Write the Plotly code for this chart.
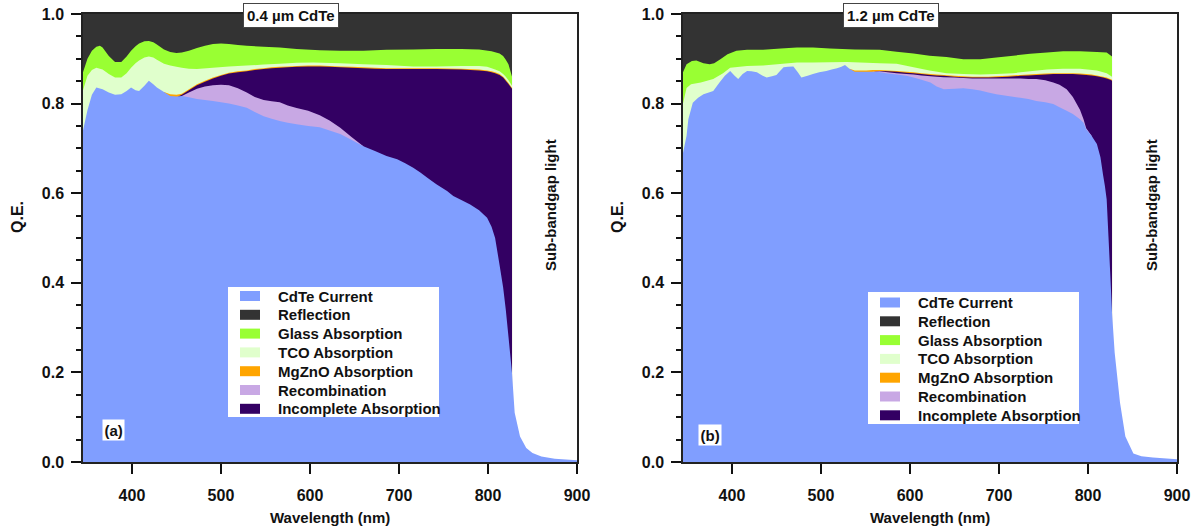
import plotly.graph_objects as go

W, H = 1200, 531
PLOT_TOP, PLOT_BOTTOM = 14, 462

COLORS = {
    "CdTe Current": "#809EFF",
    "Reflection": "#333333",
    "Glass Absorption": "#99FF33",
    "TCO Absorption": "#E0FFCC",
    "MgZnO Absorption": "#FFA500",
    "Recombination": "#C8A8E4",
    "Incomplete Absorption": "#330063",
}
LEGEND_ORDER = ["CdTe Current", "Reflection", "Glass Absorption", "TCO Absorption",
                "MgZnO Absorption", "Recombination", "Incomplete Absorption"]
# bands are painted back to front; each series is the upper edge of its band
PAINT_ORDER = ["Reflection", "Glass Absorption", "TCO Absorption", "MgZnO Absorption",
               "Incomplete Absorption", "Recombination", "CdTe Current"]

# ---------------- (a) 0.4 um CdTe ----------------
wl_reflection_a = [345, 827]
reflection_top_a = [1.0, 1.0]

wl_glass_a = [345, 350, 355, 360, 364, 367, 374, 381, 388, 394, 399, 404, 408, 414, 419, 424,
              428, 436, 443, 450, 456, 464, 473, 482, 491, 500, 509, 519, 529, 548, 566, 585,
              611, 634, 660, 686, 716, 742, 770, 790, 804, 813, 817, 820, 823, 827]
glass_top_a = [0.870, 0.900, 0.918, 0.927, 0.929, 0.925, 0.906, 0.893, 0.893, 0.905, 0.918,
               0.928, 0.934, 0.939, 0.940, 0.937, 0.932, 0.921, 0.915, 0.913, 0.914, 0.918,
               0.924, 0.929, 0.933, 0.934, 0.933, 0.931, 0.929, 0.927, 0.925, 0.922, 0.919,
               0.918, 0.918, 0.920, 0.921, 0.922, 0.922, 0.921, 0.917, 0.912, 0.906, 0.898,
               0.888, 0.860]

wl_tco_a = [345, 350, 355, 360, 367, 374, 381, 388, 394, 399, 404, 408, 414, 419, 424, 428,
            436, 443, 450, 456, 464, 473, 491, 509, 529, 548, 566, 585, 604, 634, 660, 686,
            716, 742, 770, 790, 799, 804, 808, 813, 817, 820, 823, 827]
tco_top_a = [0.830, 0.862, 0.875, 0.880, 0.876, 0.866, 0.858, 0.858, 0.868, 0.880, 0.890,
             0.896, 0.903, 0.905, 0.903, 0.898, 0.889, 0.885, 0.882, 0.880, 0.878, 0.877,
             0.880, 0.883, 0.885, 0.887, 0.889, 0.891, 0.892, 0.890, 0.888, 0.886, 0.883,
             0.883, 0.884, 0.884, 0.882, 0.879, 0.876, 0.872, 0.866, 0.860, 0.852, 0.840]

wl_mgzno_a = [436, 443, 450, 456, 464, 473, 482, 491, 500, 509, 519, 529, 538, 548, 557, 566,
              575, 585, 598, 611, 622, 634, 647, 660, 673, 686, 698, 716, 742, 770, 790, 799,
              804, 808, 813, 817, 820, 823, 827]
mgzno_top_a = [0.826, 0.821, 0.820, 0.822, 0.832, 0.843, 0.851, 0.858, 0.864, 0.869, 0.872,
               0.874, 0.877, 0.879, 0.881, 0.882, 0.883, 0.884, 0.885, 0.885, 0.884, 0.883,
               0.882, 0.881, 0.880, 0.879, 0.879, 0.879, 0.879, 0.878, 0.876, 0.874, 0.872,
               0.870, 0.866, 0.860, 0.853, 0.846, 0.835]

wl_incomplete_a = [452, 456, 464, 473, 482, 491, 500, 509, 519, 529, 538, 548, 557, 566, 575,
                   585, 598, 611, 622, 634, 647, 660, 673, 686, 698, 716, 742, 770, 790, 799,
                   804, 808, 813, 817, 820, 823, 827]
incomplete_top_a = [0.816, 0.820, 0.830, 0.841, 0.849, 0.856, 0.862, 0.867, 0.870, 0.872, 0.875,
                    0.877, 0.879, 0.880, 0.881, 0.882, 0.883, 0.883, 0.882, 0.881, 0.880, 0.879,
                    0.878, 0.877, 0.877, 0.877, 0.877, 0.876, 0.874, 0.872, 0.870, 0.868, 0.864,
                    0.858, 0.851, 0.844, 0.833]

wl_recomb_a = [456, 464, 473, 482, 491, 500, 509, 519, 529, 538, 548, 557, 566, 575, 585, 598,
               611, 622, 634, 647, 660]
recomb_top_a = [0.817, 0.825, 0.833, 0.838, 0.841, 0.842, 0.841, 0.834, 0.825, 0.815, 0.808,
                0.805, 0.803, 0.796, 0.790, 0.784, 0.774, 0.762, 0.746, 0.725, 0.705]

wl_current_a = [345, 350, 355, 360, 367, 374, 381, 388, 394, 399, 404, 408, 414, 419, 424, 428,
                436, 443, 450, 456, 464, 473, 482, 491, 500, 509, 519, 529, 538, 548, 557, 566,
                575, 585, 598, 611, 622, 634, 647, 660, 673, 686, 698, 707, 716, 724, 733, 742,
                754, 761, 770, 780, 790, 799, 804, 808, 813, 817, 820, 823, 827, 830, 836, 843,
                850, 860, 875, 900]
current_a = [0.740, 0.785, 0.820, 0.836, 0.832, 0.825, 0.820, 0.821, 0.828, 0.836, 0.830, 0.828,
             0.840, 0.851, 0.843, 0.836, 0.826, 0.817, 0.816, 0.817, 0.814, 0.810, 0.808, 0.806,
             0.803, 0.800, 0.796, 0.791, 0.781, 0.772, 0.766, 0.761, 0.757, 0.754, 0.750, 0.747,
             0.740, 0.732, 0.719, 0.705, 0.694, 0.683, 0.676, 0.667, 0.657, 0.646, 0.633, 0.620,
             0.605, 0.594, 0.585, 0.575, 0.562, 0.545, 0.525, 0.500, 0.440, 0.390, 0.340, 0.280,
             0.198, 0.110, 0.057, 0.031, 0.020, 0.012, 0.007, 0.004]

# ---------------- (b) 1.2 um CdTe ----------------
wl_reflection_b = [345, 827]
reflection_top_b = [1.0, 1.0]

wl_glass_b = [345, 349, 355, 360, 368, 375, 380, 387, 395, 405, 417, 435, 455, 473, 491, 510,
              538, 566, 585, 604, 622, 641, 660, 679, 697, 716, 735, 754, 772, 791, 810, 821, 827]
glass_top_b = [0.870, 0.888, 0.895, 0.896, 0.890, 0.888, 0.890, 0.899, 0.910, 0.918, 0.920,
               0.920, 0.923, 0.925, 0.925, 0.923, 0.921, 0.920, 0.916, 0.912, 0.907, 0.904,
               0.899, 0.899, 0.903, 0.907, 0.911, 0.914, 0.917, 0.917, 0.915, 0.914, 0.905]

wl_tco_b = [345, 349, 354, 365, 379, 390, 398, 417, 435, 473, 491, 529, 566, 585, 604, 622, 641,
            660, 679, 697, 716, 735, 754, 772, 791, 810, 821, 827]
tco_top_b = [0.800, 0.835, 0.843, 0.847, 0.855, 0.868, 0.880, 0.884, 0.885, 0.892, 0.892, 0.893,
             0.890, 0.889, 0.881, 0.874, 0.868, 0.866, 0.865, 0.866, 0.868, 0.872, 0.876, 0.878,
             0.878, 0.874, 0.868, 0.860]

wl_mgzno_b = [532, 538, 545, 551, 558, 566, 575, 585, 596, 604, 613, 623, 630, 638, 650, 660, 670,
              679, 688, 697, 710, 724, 733, 742, 752, 761, 768, 776, 783, 791, 798, 804, 810, 817,
              821, 825, 827]
mgzno_top_b = [0.878, 0.874, 0.874, 0.874, 0.875, 0.875, 0.874, 0.873, 0.871, 0.870, 0.868, 0.866,
               0.865, 0.864, 0.862, 0.861, 0.860, 0.860, 0.860, 0.861, 0.862, 0.864, 0.865, 0.866,
               0.867, 0.868, 0.868, 0.868, 0.868, 0.867, 0.866, 0.865, 0.863, 0.860, 0.858, 0.855,
               0.853]

wl_incomplete_b = [560, 566, 575, 585, 596, 604, 613, 623, 630, 638, 650, 660, 670, 679, 688, 697,
                   710, 724, 733, 742, 752, 761, 768, 776, 783, 791, 798, 804, 810, 817, 821, 825,
                   827]
incomplete_top_b = [0.871, 0.873, 0.872, 0.871, 0.869, 0.868, 0.866, 0.864, 0.863, 0.862, 0.860,
                    0.859, 0.858, 0.858, 0.858, 0.859, 0.860, 0.862, 0.863, 0.864, 0.865, 0.866,
                    0.866, 0.866, 0.866, 0.865, 0.864, 0.863, 0.861, 0.858, 0.856, 0.853, 0.851]

wl_recomb_b = [558, 566, 575, 585, 596, 604, 613, 623, 630, 638, 650, 660, 670, 679, 688, 697,
               710, 724, 733, 742, 752, 761, 768, 776, 783, 791, 795, 798, 804]
recomb_top_b = [0.871, 0.872, 0.870, 0.868, 0.866, 0.865, 0.863, 0.861, 0.860, 0.859, 0.858,
                0.857, 0.856, 0.856, 0.856, 0.856, 0.856, 0.856, 0.855, 0.855, 0.852, 0.847,
                0.842, 0.832, 0.815, 0.786, 0.765, 0.745, 0.728]

wl_current_b = [345, 349, 351, 356, 362, 368, 374, 379, 386, 392, 398, 403, 407, 412, 417, 422,
                428, 434, 439, 445, 450, 454, 458, 463, 469, 474, 478, 485, 491, 498, 506, 512,
                518, 523, 527, 532, 538, 545, 551, 558, 566, 575, 585, 596, 604, 613, 623, 630,
                638, 650, 660, 670, 679, 688, 697, 710, 724, 733, 742, 752, 761, 768, 776, 783,
                791, 795, 798, 804, 810, 814, 817, 819, 821, 823, 825, 827, 830, 836, 842, 851,
                860, 873, 900]
current_b = [0.690, 0.728, 0.765, 0.802, 0.813, 0.821, 0.825, 0.828, 0.847, 0.862, 0.873, 0.862,
             0.855, 0.866, 0.873, 0.872, 0.870, 0.863, 0.858, 0.861, 0.864, 0.873, 0.881, 0.882,
             0.883, 0.870, 0.858, 0.862, 0.866, 0.870, 0.873, 0.876, 0.879, 0.882, 0.886, 0.878,
             0.871, 0.871, 0.871, 0.871, 0.870, 0.867, 0.865, 0.862, 0.858, 0.853, 0.847, 0.838,
             0.832, 0.833, 0.834, 0.832, 0.829, 0.825, 0.821, 0.817, 0.813, 0.810, 0.806, 0.803,
             0.799, 0.792, 0.784, 0.777, 0.765, 0.757, 0.743, 0.728, 0.710, 0.680, 0.640, 0.616,
             0.586, 0.504, 0.420, 0.333, 0.244, 0.132, 0.057, 0.019, 0.013, 0.010, 0.006]

x_ticks = [400, 500, 600, 700, 800, 900]


def px(xp):
    return xp / W


def py(yp):
    return 1 - yp / H


panels = [
    dict(axis="", left=83, right=577, title="0.4 µm CdTe", title_x=291, tag="(a)", tag_xy=(113, 429.5),
         qe_x=17, sub_x=550, legend_box=(228, 287, 439, 417), legend_row0=296,
         bands={
             "Reflection": (wl_reflection_a, reflection_top_a),
             "Glass Absorption": (wl_glass_a, glass_top_a),
             "TCO Absorption": (wl_tco_a, tco_top_a),
             "MgZnO Absorption": (wl_mgzno_a, mgzno_top_a),
             "Incomplete Absorption": (wl_incomplete_a, incomplete_top_a),
             "Recombination": (wl_recomb_a, recomb_top_a),
             "CdTe Current": (wl_current_a, current_a),
         }),
    dict(axis="2", left=683, right=1177, title="1.2 µm CdTe", title_x=891, tag="(b)", tag_xy=(710, 435),
         qe_x=617, sub_x=1151, legend_box=(868, 292, 1079, 424), legend_row0=302.5,
         bands={
             "Reflection": (wl_reflection_b, reflection_top_b),
             "Glass Absorption": (wl_glass_b, glass_top_b),
             "TCO Absorption": (wl_tco_b, tco_top_b),
             "MgZnO Absorption": (wl_mgzno_b, mgzno_top_b),
             "Incomplete Absorption": (wl_incomplete_b, incomplete_top_b),
             "Recombination": (wl_recomb_b, recomb_top_b),
             "CdTe Current": (wl_current_b, current_b),
         }),
]

FONT = "Liberation Sans, Arial, sans-serif"
fig = go.Figure()
shapes, annotations = [], []
layout_axes = {}

for p in panels:
    xa, ya = "x" + p["axis"], "y" + p["axis"]
    for name in PAINT_ORDER:
        wl, top = p["bands"][name]
        fig.add_trace(go.Scatter(
            x=wl, y=top, name=name, xaxis=xa, yaxis=ya, mode="none",
            fill="tozeroy", fillcolor=COLORS[name], showlegend=False, hoverinfo="skip"))

    layout_axes["xaxis" + p["axis"]] = dict(
        domain=[px(p["left"]), px(p["right"])], range=[345, 900], anchor=ya,
        tickvals=x_ticks, ticks="outside", ticklen=10, tickwidth=1.5, tickcolor="#111",
        ticklabelstandoff=8, showline=True, mirror=True, linecolor="#222", linewidth=1.5,
        showgrid=False, zeroline=False, automargin=False,
        tickfont=dict(family=FONT, size=16, color="#111", weight="bold"))
    layout_axes["yaxis" + p["axis"]] = dict(
        domain=[py(PLOT_BOTTOM), py(PLOT_TOP)], range=[0, 1.0], anchor=xa,
        dtick=0.2, tickformat=".1f", ticks="outside", ticklen=10, tickwidth=1.5, tickcolor="#111",
        minor=dict(dtick=0.05, ticks="outside", ticklen=5, tickwidth=1.5, tickcolor="#111"),
        ticklabelstandoff=4, showline=True, mirror=True, linecolor="#222", linewidth=1.5,
        showgrid=False, zeroline=False, automargin=False,
        tickfont=dict(family=FONT, size=16, color="#111", weight="bold"))

    bold = dict(family=FONT, size=15, color="#111", weight="bold")
    cx = (p["left"] + p["right"]) / 2
    annotations += [
        dict(text="Wavelength (nm)", x=px(cx), y=py(517), xref="paper", yref="paper",
             showarrow=False, xanchor="center", yanchor="middle", font=bold),
        dict(text="Q.E.", x=px(p["qe_x"]), y=py(217), xref="paper", yref="paper", textangle=-90,
             showarrow=False, xanchor="center", yanchor="middle", font=dict(bold, size=16)),
        dict(text=p["title"], x=px(p["title_x"]), y=py(16), xref="paper", yref="paper",
             showarrow=False, xanchor="center", yanchor="middle", font=bold,
             bgcolor="white", bordercolor="#444", borderwidth=1, borderpad=3),
        dict(text="Sub-bandgap light", x=px(p["sub_x"]), y=py(205), xref="paper", yref="paper",
             textangle=-90, showarrow=False, xanchor="center", yanchor="middle", font=bold),
        dict(text=p["tag"], x=px(p["tag_xy"][0]), y=py(p["tag_xy"][1]), xref="paper", yref="paper",
             showarrow=False, xanchor="center", yanchor="middle", font=bold,
             bgcolor="white", borderpad=1.5),
    ]

    # legend box with one swatch + label per band
    bx0, by0, bx1, by1 = p["legend_box"]
    shapes.append(dict(type="rect", xref="paper", yref="paper", x0=px(bx0), x1=px(bx1),
                       y0=py(by1), y1=py(by0), fillcolor="white", line=dict(width=0), layer="above"))
    for i, name in enumerate(LEGEND_ORDER):
        yc = p["legend_row0"] + i * 18.8
        shapes.append(dict(type="rect", xref="paper", yref="paper",
                           x0=px(bx0 + 12), x1=px(bx0 + 32), y0=py(yc + 5), y1=py(yc - 5),
                           fillcolor=COLORS[name], line=dict(width=0), layer="above"))
        annotations.append(dict(text=name, x=px(bx0 + 48), y=py(yc), xref="paper", yref="paper",
                                showarrow=False, xanchor="left", yanchor="middle", font=bold))

fig.update_layout(
    width=W, height=H, margin=dict(l=0, r=0, t=0, b=0),
    paper_bgcolor="white", plot_bgcolor="white", showlegend=False,
    shapes=shapes, annotations=annotations, **layout_axes)

fig.write_html("out.html")
